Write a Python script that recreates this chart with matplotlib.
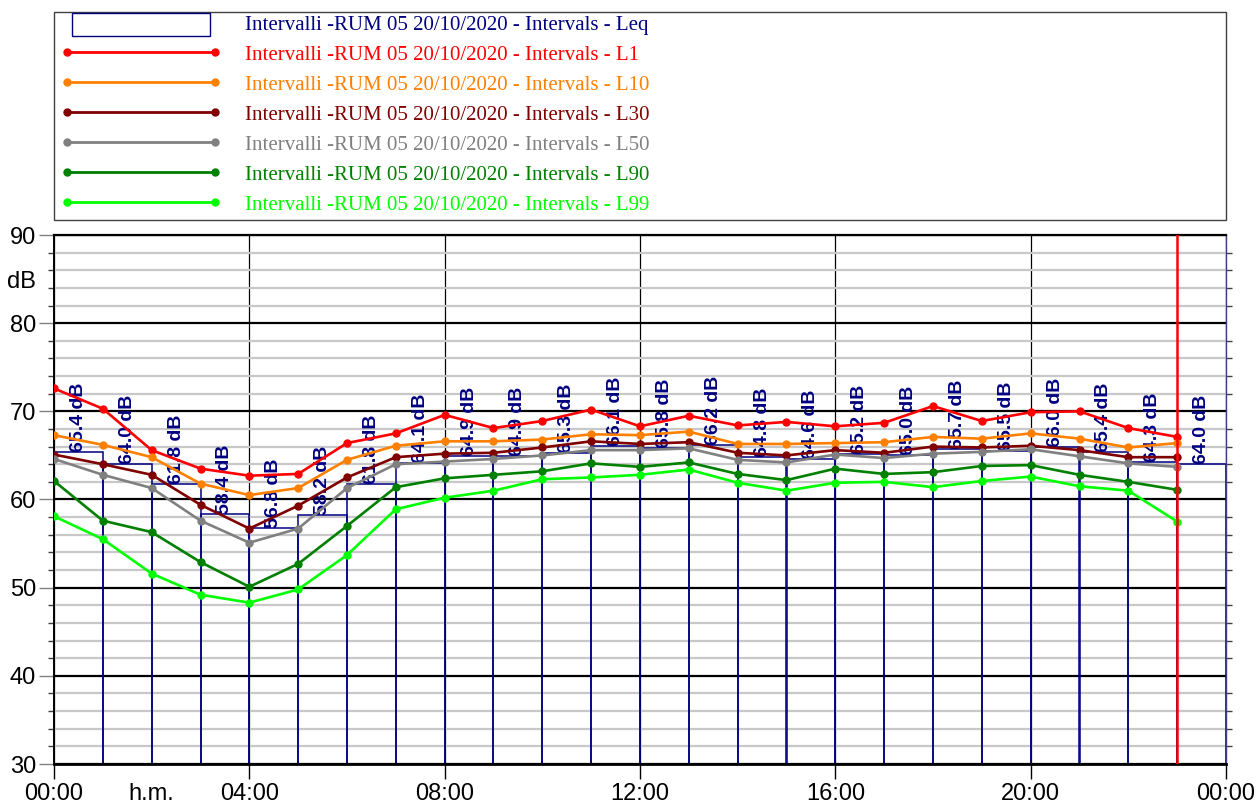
import matplotlib
matplotlib.use("Agg")
import matplotlib.pyplot as plt
from matplotlib.ticker import MultipleLocator
from matplotlib.patches import Rectangle
from matplotlib.lines import Line2D
from matplotlib.legend_handler import HandlerPatch
import numpy as np

# hourly intervals, 20/10/2020
hours = list(range(24))
leq = [65.4, 64.0, 61.8, 58.4, 56.8, 58.2, 61.8, 64.1, 64.9, 64.9, 65.3, 66.1,
       65.8, 66.2, 64.8, 64.6, 65.2, 65.0, 65.7, 65.5, 66.0, 65.4, 64.3, 64.0]
l1 = [72.6, 70.3, 65.6, 63.5, 62.7, 62.9, 66.4, 67.5, 69.6, 68.1, 68.9, 70.2,
      68.3, 69.5, 68.4, 68.8, 68.3, 68.7, 70.6, 68.9, 69.9, 70.0, 68.1, 67.1]
l10 = [67.3, 66.2, 64.8, 61.8, 60.5, 61.3, 64.5, 66.1, 66.6, 66.6, 66.8, 67.4,
       67.3, 67.7, 66.3, 66.3, 66.4, 66.5, 67.1, 66.9, 67.5, 66.9, 65.9, 66.4]
l30 = [65.1, 64.0, 62.8, 59.4, 56.7, 59.3, 62.5, 64.8, 65.2, 65.3, 65.9, 66.6,
       66.3, 66.5, 65.3, 65.0, 65.6, 65.3, 66.0, 65.9, 66.1, 65.6, 64.8, 64.8]
l50 = [64.6, 62.8, 61.3, 57.6, 55.1, 56.7, 61.3, 64.0, 64.3, 64.6, 65.0, 65.6,
       65.6, 65.8, 64.5, 64.2, 65.1, 64.7, 65.2, 65.4, 65.7, 64.9, 64.1, 63.7]
l90 = [62.1, 57.6, 56.3, 52.9, 50.1, 52.7, 57.0, 61.4, 62.4, 62.8, 63.2, 64.1,
       63.7, 64.2, 62.9, 62.2, 63.5, 62.9, 63.1, 63.8, 63.9, 62.8, 62.0, 61.1]
l99 = [58.1, 55.5, 51.6, 49.2, 48.3, 49.8, 53.7, 58.9, 60.2, 61.0, 62.3, 62.5,
       62.8, 63.4, 61.9, 61.0, 61.9, 62.0, 61.4, 62.1, 62.6, 61.5, 61.0, 57.5]

series = [("L1", l1, "#FF0000"), ("L10", l10, "#FF8000"), ("L30", l30, "#800000"),
          ("L50", l50, "#808080"), ("L90", l90, "#008000"), ("L99", l99, "#00FF00")]
prefix = "Intervalli -RUM 05 20/10/2020 - Intervals - "
navy = "#000080"

xtick_pos = [0, 2, 4, 8, 12, 16, 20, 24]
xtick_lab = ["00:00", "h.m.", "04:00", "08:00", "12:00", "16:00", "20:00", "00:00"]
ytick_pos = [30, 40, 50, 60, 70, 80, 85, 90]
ytick_lab = ["30", "40", "50", "60", "70", "80", "dB", "90"]

plt.rcParams['font.family'] = ['Liberation Sans', 'DejaVu Sans']

W, H = 1258, 805
fig = plt.figure(figsize=(W / 100, H / 100), dpi=100)
ax = fig.add_axes([54 / W, 41 / H, 1172 / W, 529 / H])

# Leq bars (outline only)
ax.bar(hours, leq, width=1, align='edge', fill=False, edgecolor=navy,
       linewidth=1.1, zorder=2)
for h, v in zip(hours, leq):
    ax.text(h + 0.5, v, f"{v:.1f} dB", rotation=90, ha='center', va='bottom',
            color=navy, fontsize=14, fontweight='bold', zorder=2.5)

for name, vals, col in series:
    ax.plot(hours, vals, color=col, lw=1.9, marker='o', ms=5, zorder=3)

ax.axvline(23, color="#FF0000", lw=1.8, zorder=4)

ax.set_xlim(0, 24)
ax.set_ylim(30, 90)
ax.set_xticks(xtick_pos)
ax.set_xticklabels(xtick_lab)
ax.set_yticks(ytick_pos)
ax.set_yticklabels(ytick_lab)
ax.yaxis.set_minor_locator(MultipleLocator(2))

ax.set_axisbelow(True)
ax.grid(axis='y', which='major', color='black', lw=1.6)
ax.grid(axis='y', which='minor', color='#C8C8C8', lw=1.6)
ax.grid(axis='x', which='major', color='black', lw=0.9)

# hide tick marks / grid for the text-only ticks
ax.xaxis.get_major_ticks()[1].tick1line.set_visible(False)
ax.xaxis.get_major_ticks()[1].gridline.set_visible(False)
ax.yaxis.get_major_ticks()[6].tick1line.set_visible(False)
ax.yaxis.get_major_ticks()[6].gridline.set_visible(False)

ax.tick_params(axis='x', which='major', length=11, width=1, labelsize=17, pad=3)
ax.tick_params(axis='y', which='major', length=11, width=1, color='#808080',
               labelsize=17, pad=2)
ax.tick_params(axis='y', which='minor', length=4.5, width=1, color='#404040',
               right=True)

for s in ['left', 'bottom', 'top']:
    ax.spines[s].set_color('black')
ax.spines['left'].set_linewidth(1.4)
ax.spines['bottom'].set_linewidth(2)
ax.spines['top'].set_linewidth(1.6)
ax.spines['right'].set_color('#404080')
ax.spines['right'].set_linewidth(1)


# legend: Leq box handle is inset from the line handles
def leq_box(legend, orig_handle, xdescent, ydescent, width, height, fontsize):
    pad = 0.53 * fontsize
    return Rectangle((-xdescent + pad, -ydescent - 2.5), width - 2 * pad, height + 3)


handles = [Rectangle((0, 0), 1, 1, fill=False, edgecolor=navy, lw=1)]
labels = [prefix + "Leq"]
colors = [navy]
for name, vals, col in series:
    handles.append(Line2D([], [], color=col, lw=2, marker='o', ms=5))
    labels.append(prefix + name)
    colors.append(col)

leg = fig.legend(handles, labels, loc='upper left',
                 bbox_to_anchor=(61 / W, 1 - 14 / H),
                 numpoints=2, handlelength=7.68, handleheight=1.0,
                 handletextpad=1.15, labelspacing=0.41, borderpad=0,
                 borderaxespad=0, frameon=False,
                 handler_map={Rectangle: HandlerPatch(patch_func=leq_box)},
                 prop={'family': ['Liberation Serif'], 'size': 15})
for t, c in zip(leg.get_texts(), colors):
    t.set_color(c)

fig.add_artist(Rectangle((54 / W, 1 - 220 / H), 1172 / W, 208 / H,
                         transform=fig.transFigure, fill=False,
                         edgecolor='#404040', lw=1))

fig.savefig("out.png", dpi=100)
